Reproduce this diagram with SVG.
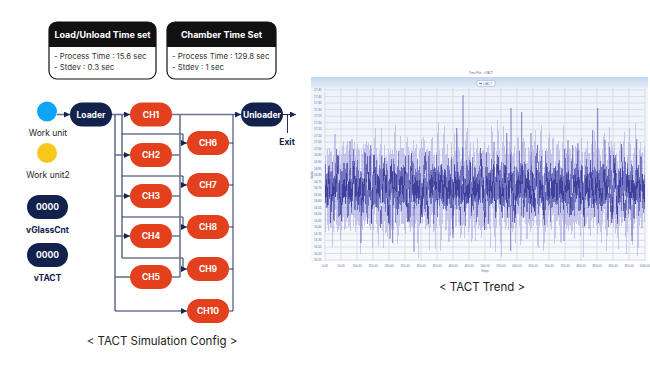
<svg xmlns="http://www.w3.org/2000/svg" width="650" height="370" viewBox="0 0 650 370">
<defs>
<style>
.hdr{font-family:Inter,"Noto Sans",sans-serif;font-size:9px;font-weight:700;fill:#fff;text-anchor:middle}
.body{font-family:Inter,"Noto Sans",sans-serif;font-size:7.8px;fill:#333}
.nav{fill:#13214d}
.red{fill:#e3401d}
.nt{font-family:Inter,"Noto Sans",sans-serif;font-size:8.5px;font-weight:700;fill:#fff;text-anchor:middle;dominant-baseline:central}
.lbl{font-family:Inter,"Noto Sans",sans-serif;font-size:8.5px;fill:#222;text-anchor:middle}
.lblb{font-family:Inter,"Noto Sans",sans-serif;font-size:8.5px;font-weight:700;fill:#13214d;text-anchor:middle}
.cap{font-family:Inter,"Noto Sans",sans-serif;font-size:11.5px;fill:#222;text-anchor:middle}
.ln{fill:none;stroke:#6b7390;stroke-width:1.6}
.ln2{fill:none;stroke:#24305a;stroke-width:1}
.tiny{font-family:"Liberation Sans",sans-serif;font-size:3px;fill:#5a6e96}
.tinyx{font-family:"Liberation Sans",sans-serif;font-size:3px;fill:#5a6e96;text-anchor:middle}
.grid{stroke:#d3d7dd;stroke-width:0.8;fill:none}
.spk{stroke:#4646ac;stroke-width:1;opacity:0.7}
</style>
<marker id="ah" viewBox="0 0 6 6" refX="6" refY="3" markerWidth="6" markerHeight="6" markerUnits="userSpaceOnUse" orient="auto"><path d="M0,0 L6,3 L0,6 Z" fill="#1a2550"/></marker>
<linearGradient id="hg" x1="0" y1="0" x2="0" y2="1"><stop offset="0" stop-color="#c3d6ef"/><stop offset="1" stop-color="#e6eef9"/></linearGradient>
<linearGradient id="pg" x1="0" y1="0" x2="0" y2="1"><stop offset="0" stop-color="#eef3fb"/><stop offset="1" stop-color="#f7f9fd"/></linearGradient>
<clipPath id="plotClip"><rect x="325" y="88" width="320" height="173"/></clipPath>
<filter id="fa" filterUnits="userSpaceOnUse" x="300" y="60" width="360" height="220" color-interpolation-filters="sRGB">
<feTurbulence type="fractalNoise" baseFrequency="0.35 0" numOctaves="3" seed="3" result="n"/>
<feDisplacementMap in="SourceGraphic" in2="n" scale="110" xChannelSelector="G" yChannelSelector="R"/>
</filter>
<filter id="fb" filterUnits="userSpaceOnUse" x="300" y="60" width="360" height="220" color-interpolation-filters="sRGB">
<feTurbulence type="fractalNoise" baseFrequency="0.42 0" numOctaves="2" seed="11" result="n"/>
<feDisplacementMap in="SourceGraphic" in2="n" scale="100" xChannelSelector="G" yChannelSelector="R"/>
</filter>
<filter id="fc" filterUnits="userSpaceOnUse" x="300" y="60" width="360" height="220" color-interpolation-filters="sRGB">
<feTurbulence type="fractalNoise" baseFrequency="0.3 0" numOctaves="3" seed="27" result="n"/>
<feDisplacementMap in="SourceGraphic" in2="n" scale="130" xChannelSelector="G" yChannelSelector="R"/>
</filter>
</defs>
<rect width="650" height="370" fill="#fff"/>

<g id="loadunload-box">
<rect x="49" y="22" width="107" height="57" rx="8" fill="#fff"/>
<path d="M49,47 V30 a8,8 0 0 1 8,-8 H148 a8,8 0 0 1 8,8 V47 Z" fill="#111"/>
<rect x="49" y="22" width="107" height="57" rx="8" fill="none" stroke="#111" stroke-width="1.2"/>
<text class="hdr" x="102.5" y="38">Load/Unload Time set</text>
<text class="body" x="54" y="59">- Process Time : 15.6 sec</text>
<text class="body" x="54" y="70">- Stdev : 0.3 sec</text>
</g>
<g id="chamber-box">
<rect x="167" y="22" width="109" height="57" rx="8" fill="#fff"/>
<path d="M167,47 V30 a8,8 0 0 1 8,-8 H268 a8,8 0 0 1 8,8 V47 Z" fill="#111"/>
<rect x="167" y="22" width="109" height="57" rx="8" fill="none" stroke="#111" stroke-width="1.2"/>
<text class="hdr" x="221.5" y="38">Chamber Time Set</text>
<text class="body" x="172" y="59">- Process Time : 129.8 sec</text>
<text class="body" x="172" y="70">- Stdev : 1 sec</text>
</g>

<g id="connectors">
<path class="ln" d="M57,114.5 H70" marker-end="url(#ah)"/>
<path class="ln" d="M112,114.5 H130" marker-end="url(#ah)"/>
<path class="ln" d="M115,114.5 V311"/>
<path class="ln" d="M122,114.5 V258"/>
<path class="ln" d="M115,155 H130" marker-end="url(#ah)"/>
<path class="ln" d="M115,196 H130" marker-end="url(#ah)"/>
<path class="ln" d="M115,236 H130" marker-end="url(#ah)"/>
<path class="ln" d="M115,277 H130"/>
<path class="ln2" d="M115,311 H187" marker-end="url(#ah)"/>
<path class="ln2" d="M122,134 H183 V143 H187" marker-end="url(#ah)"/>
<path class="ln2" d="M122,176 H183 V185 H187" marker-end="url(#ah)"/>
<path class="ln2" d="M122,217 H183 V227 H187" marker-end="url(#ah)"/>
<path class="ln2" d="M122,258 H183 V269 H187" marker-end="url(#ah)"/>
<path class="ln" d="M172,114.5 H241" marker-end="url(#ah)"/>
<path class="ln" d="M180,114.5 V277"/>
<path class="ln" d="M172,155 H180 M172,196 H180 M172,236 H180 M172,277 H180"/>
<path class="ln2" d="M233,114.5 V311 M229,143 H233 M229,185 H233 M229,227 H233 M229,269 H233 M229,311 H233"/>
<path class="ln2" d="M283,114.5 H296" marker-end="url(#ah)"/>
<path class="ln2" d="M287.5,114.5 V133"/>
</g>

<g id="work-unit"><circle cx="47" cy="111.5" r="10" fill="#0ea4f7"/><text class="lbl" x="48" y="136">Work unit</text></g>
<g id="work-unit2"><circle cx="47" cy="153" r="10" fill="#f7c81b"/><text class="lbl" x="48" y="178">Work unit2</text></g>
<g id="vGlassCnt"><rect class="nav" x="27" y="195" width="41" height="24" rx="12"/><text class="nt" x="47.5" y="207">0000</text><text class="lblb" x="47.5" y="233">vGlassCnt</text></g>
<g id="vTACT"><rect class="nav" x="27" y="243" width="41" height="24" rx="12"/><text class="nt" x="47.5" y="255">0000</text><text class="lblb" x="47.5" y="281">vTACT</text></g>

<g id="loader"><rect class="nav" x="70" y="102.5" width="42" height="24" rx="12"/><text class="nt" x="91" y="114.5">Loader</text></g>
<g id="ch1"><rect class="red" x="130" y="102.5" width="42" height="24" rx="12"/><text class="nt" x="151" y="114.5">CH1</text></g>
<g id="ch2"><rect class="red" x="130" y="143" width="42" height="24" rx="12"/><text class="nt" x="151" y="155">CH2</text></g>
<g id="ch3"><rect class="red" x="130" y="184" width="42" height="24" rx="12"/><text class="nt" x="151" y="196">CH3</text></g>
<g id="ch4"><rect class="red" x="130" y="224" width="42" height="24" rx="12"/><text class="nt" x="151" y="236">CH4</text></g>
<g id="ch5"><rect class="red" x="130" y="265" width="42" height="24" rx="12"/><text class="nt" x="151" y="277">CH5</text></g>
<g id="ch6"><rect class="red" x="187" y="131" width="42" height="24" rx="12"/><text class="nt" x="208" y="143">CH6</text></g>
<g id="ch7"><rect class="red" x="187" y="173" width="42" height="24" rx="12"/><text class="nt" x="208" y="185">CH7</text></g>
<g id="ch8"><rect class="red" x="187" y="215" width="42" height="24" rx="12"/><text class="nt" x="208" y="227">CH8</text></g>
<g id="ch9"><rect class="red" x="187" y="257" width="42" height="24" rx="12"/><text class="nt" x="208" y="269">CH9</text></g>
<g id="ch10"><rect class="red" x="187" y="299" width="42" height="24" rx="12"/><text class="nt" x="208" y="311">CH10</text></g>
<g id="unloader"><rect class="nav" x="241" y="102.5" width="42" height="24" rx="12"/><text class="nt" x="262" y="114.5">Unloader</text></g>
<g id="exit"><text class="lblb" x="287" y="145">Exit</text></g>

<text class="cap" x="162" y="345">&lt; TACT Simulation Config &gt;</text>

<g id="chart">
<text class="tinyx" x="481" y="74" font-size="4">Time Plot - vTACT</text>
<rect x="311" y="77" width="337" height="184" fill="url(#pg)"/>
<rect x="311" y="77" width="337" height="11" fill="url(#hg)"/>
<rect x="477" y="80.7" width="18" height="5.5" rx="1" fill="#fff" stroke="#8fb0dc" stroke-width="0.6"/>
<line x1="479" y1="83.4" x2="482" y2="83.4" stroke="#3a3aa0" stroke-width="0.8"/>
<text class="tiny" x="483" y="84.5" font-size="2.6">vTACT</text>
<path class="grid" d="M325,90H645M325,96.5H645M325,103.1H645M325,109.6H645M325,116.2H645M325,122.7H645M325,129.2H645M325,135.8H645M325,142.3H645M325,148.9H645M325,155.4H645M325,161.9H645M325,168.5H645M325,175H645M325,181.6H645M325,188.1H645M325,194.6H645M325,201.2H645M325,207.7H645M325,214.3H645M325,220.8H645M325,227.3H645M325,233.9H645M325,240.4H645M325,247H645M325,253.5H645M325,260H645"/>
<path class="grid" stroke="#c9cbd0" d="M325,88V261M341,88V261M357,88V261M373,88V261M389,88V261M405,88V261M421,88V261M437,88V261M453,88V261M469,88V261M485,88V261M501,88V261M517,88V261M533,88V261M549,88V261M565,88V261M581,88V261M597,88V261M613,88V261M629,88V261M645,88V261"/>
<g clip-path="url(#plotClip)">
<rect x="300" y="150" width="360" height="76" fill="#9a9ade" opacity="0.5" filter="url(#fa)"/>
<rect x="300" y="170" width="360" height="34" fill="#3535a0" opacity="0.55" filter="url(#fb)"/>
<rect x="300" y="180" width="360" height="18" fill="#1d1d85" opacity="0.6" filter="url(#fc)"/>
<path class="spk" d="M463,95V175M511,108V175M521.7,112V175M597.7,108V175M456.7,128V175M592.7,130V175M506.7,133V175M531,133V175M350,141V175M370.7,145V175M605,140V175M636.7,139V175M568,140V175M578,143V175M494,142V175M414,251.7V205M510.7,251V205M361,243V205M392.7,243V205M632,241V205M564,241V205M453,238V205M390,239V205"/>
</g>
<g class="tiny">
<text x="314" y="91">17.45</text><text x="314" y="97.5">17.40</text><text x="314" y="104.1">17.35</text><text x="314" y="110.6">17.30</text><text x="314" y="117.2">17.25</text><text x="314" y="123.7">17.20</text><text x="314" y="130.2">17.15</text><text x="314" y="136.8">17.10</text><text x="314" y="143.3">17.05</text><text x="314" y="149.9">17.00</text><text x="314" y="156.4">16.95</text><text x="314" y="162.9">16.90</text><text x="314" y="169.5">16.85</text><text x="314" y="176">16.80</text><text x="314" y="182.6">16.75</text><text x="314" y="189.1">16.70</text><text x="314" y="195.6">16.65</text><text x="314" y="202.2">16.60</text><text x="314" y="208.7">16.55</text><text x="314" y="215.3">16.50</text><text x="314" y="221.8">16.45</text><text x="314" y="228.3">16.40</text><text x="314" y="234.9">16.35</text><text x="314" y="241.4">16.30</text><text x="314" y="248">16.25</text><text x="314" y="254.5">16.20</text><text x="314" y="261">16.15</text>
</g>
<g class="tinyx">
<text x="325" y="267">0.00</text><text x="341" y="267">50.00</text><text x="357" y="267">100.00</text><text x="373" y="267">150.00</text><text x="389" y="267">200.00</text><text x="405" y="267">250.00</text><text x="421" y="267">300.00</text><text x="437" y="267">350.00</text><text x="453" y="267">400.00</text><text x="469" y="267">450.00</text><text x="485" y="267">500.00</text><text x="501" y="267">550.00</text><text x="517" y="267">600.00</text><text x="533" y="267">650.00</text><text x="549" y="267">700.00</text><text x="565" y="267">750.00</text><text x="581" y="267">800.00</text><text x="597" y="267">850.00</text><text x="613" y="267">900.00</text><text x="629" y="267">950.00</text><text x="645" y="267">1000.00</text>
</g>
<text class="tinyx" x="485" y="272">Steps</text>
<text class="tinyx" transform="translate(313,175) rotate(-90)">Value</text>
</g>
<text class="cap" x="482" y="291" font-size="11">&lt; TACT Trend &gt;</text>
</svg>
